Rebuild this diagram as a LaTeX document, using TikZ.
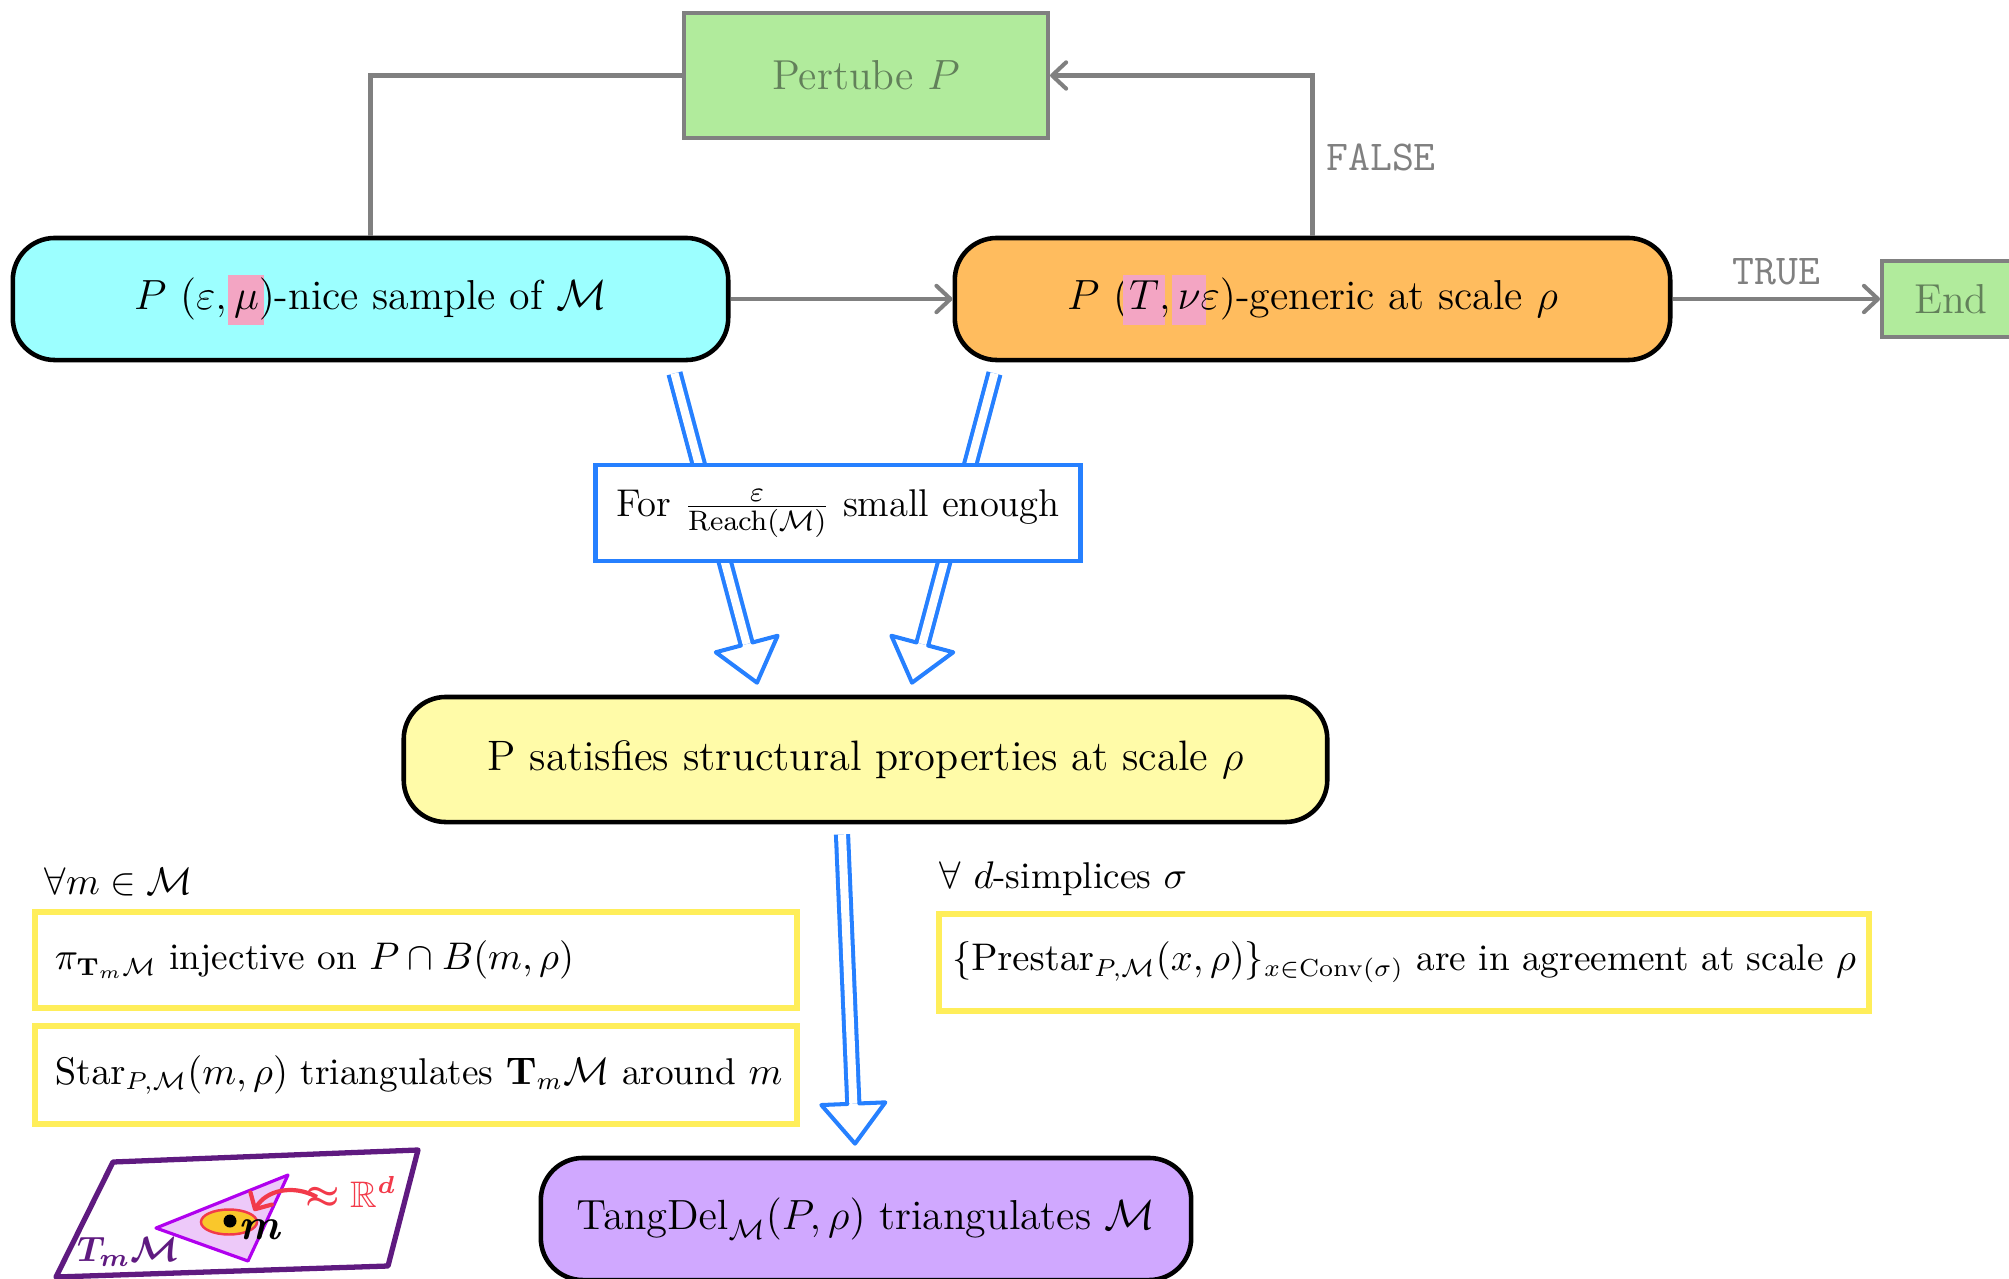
\documentclass[tikz,border=0pt]{standalone}
\usepackage{amsmath,amssymb}
\usetikzlibrary{arrows.meta,calc}

\definecolor{cyanfill}{HTML}{9CFFFF}
\definecolor{orangefill}{HTML}{FFBC5E}
\definecolor{greenfill}{HTML}{B1EB9C}
\definecolor{greentext}{HTML}{62805A}
\definecolor{yellowfill}{HTML}{FFFBA8}
\definecolor{purplefill}{HTML}{D0A8FF}
\definecolor{arrowblue}{HTML}{2680FF}
\definecolor{propyellow}{HTML}{FFEE5A}
\definecolor{hlpink}{HTML}{F3A5C3}
\definecolor{linegray}{HTML}{808080}
\definecolor{planepurple}{HTML}{5F1A80}
\definecolor{simplexfill}{HTML}{EDC9F9}
\definecolor{simplexline}{HTML}{B000EE}
\definecolor{ballfill}{HTML}{F9C72B}
\definecolor{penred}{HTML}{F23A4A}

\newcommand\stagesize{\fontsize{11.9pt}{14pt}\selectfont}
\newcommand\propsize{\fontsize{10.6pt}{13pt}\selectfont}
% pink highlighter stroke behind a math symbol
\newcommand\hlmark[1]{{\setbox0\hbox{$#1$}\rlap{\smash{\kern-1.6pt\textcolor{hlpink}{\rule[-4.3pt]{\dimexpr\wd0+3.2pt\relax}{14pt}}}}\box0}}
% hollow double arrow from #1 to #2
\newcommand\hollowarrow[2]{%
  \coordinate (hb) at ($(#2)!0.40cm!(#1)$);
  \draw[dblshaft] (#1) -- (hb);
  \draw[hollowhead] ($(hb)!0.061cm!90:(#2)$) -- ($(hb)!0.32cm!90:(#2)$) -- (#2)
     -- ($(hb)!0.32cm!-90:(#2)$) -- ($(hb)!0.061cm!-90:(#2)$);
}

\begin{document}
\begin{tikzpicture}[x=0.01cm, y=-0.01cm, font=\stagesize,
  stage/.style={draw=black, line width=1.3pt, rounded corners=0.42cm, minimum height=1.22cm, inner sep=0pt},
  flatbox/.style={draw=linegray, line width=1.1pt, fill=greenfill, text=greentext, inner sep=0pt},
  propbox/.style={draw=propyellow, line width=1.7pt, fill=white, inner sep=0pt, font=\propsize},
  plain/.style={inner sep=0pt},
  gline/.style={draw=linegray, line width=1.15pt},
  gtip/.style={-{Straight Barb[length=4pt,width=7.5pt,round]}},
  flag/.style={font=\ttfamily\fontsize{12.1pt}{14pt}\selectfont, text=linegray},
  dblshaft/.style={draw=arrowblue, line width=1.15pt, double=white, double distance=2.3pt},
  hollowhead/.style={draw=arrowblue, line width=1.15pt, line join=round, line cap=round},
]
\useasboundingbox (0,0) rectangle (2009,1279);
\clip (0,0) rectangle (2009,1279);

% main stages
\node[flatbox, minimum width=3.64cm, minimum height=1.25cm] (pert) at (866,75.5) {Pertube $P$};
\node[stage, fill=cyanfill, minimum width=7.15cm] (nice) at (370.5,299)
  {$P$ $(\varepsilon,\hlmark{\mu})$-nice sample of $\mathcal{M}$};
\node[stage, fill=orangefill, minimum width=7.15cm] (gen) at (1312.5,299)
  {$P$ $(\hlmark{T},\hlmark{\nu}\varepsilon)$-generic at scale $\rho$};
\node[flatbox, minimum width=1.38cm, minimum height=0.76cm] (endn) at (1951,299) {End};
\node[stage, fill=yellowfill, minimum width=9.23cm, minimum height=1.25cm, font=\fontsize{12.1pt}{14pt}\selectfont] (struct) at (865.5,759.5)
  {P satisfies structural properties at scale $\rho$};
\node[stage, fill=purplefill, minimum width=6.50cm] (tangdel) at (866,1219)
  {$\mathrm{TangDel}_{\mathcal{M}}(P,\rho)$ triangulates $\mathcal{M}$};

% control flow
\draw[gline] (nice.north) |- (pert.west);
\draw[gline, gtip] (gen.north) |- node[pos=0.245, right, flag] {FALSE} (pert.east);
\draw[gline, gtip] (nice.east) -- (gen.west);
\draw[gline, gtip] (gen.east) -- node[above, flag] {TRUE} (endn.west);

% implications
\coordinate (a1s) at ($(nice.south east)+(-56,11)$);
\coordinate (a1t) at ($(struct.north)+(-108.5,-12)$);
\coordinate (a2s) at ($(gen.south west)+(42,11)$);
\coordinate (a2t) at ($(struct.north)+(46.5,-12)$);
\coordinate (a3s) at ($(struct.south)+(-23.5,10)$);
\coordinate (a3t) at ($(tangdel.north)+(-11,-12)$);
\hollowarrow{a1s}{a1t}
\hollowarrow{a2s}{a2t}
\hollowarrow{a3s}{a3t}

\node[draw=arrowblue, line width=1.4pt, fill=white, minimum width=4.84cm, minimum height=0.96cm, inner sep=0pt,
      font=\fontsize{11pt}{13pt}\selectfont] (cond) at (838,513)
  {For $\frac{\varepsilon}{\mathrm{Reach}(\mathcal{M})}$ small enough};

% structural properties
\node[plain, anchor=west, font=\propsize] (allm) at (44,882) {$\forall m\in\mathcal{M}$};
\node[plain, anchor=west, font=\propsize] (alld) at (939,879) {$\forall$ $d$-simplices $\sigma$};
\node[propbox, minimum width=7.62cm, minimum height=0.96cm, text width=7.22cm, align=left] (inj) at (416,960)
  {\mbox{$\pi_{\mathbf{T}_m\mathcal{M}}$ injective on $P\cap B(m,\rho)$}};
\node[propbox, minimum width=7.62cm, minimum height=0.98cm, text width=7.22cm, align=left] (star) at (416,1075)
  {\mbox{$\mathrm{Star}_{P,\mathcal{M}}(m,\rho)$ triangulates $\mathbf{T}_m\mathcal{M}$ around $m$}};
\node[propbox, minimum width=9.30cm, minimum height=0.97cm] (agree) at (1404,962.5)
  {$\{\mathrm{Prestar}_{P,\mathcal{M}}(x,\rho)\}_{x\in\mathrm{Conv}(\sigma)}$ are in agreement at scale $\rho$};

% tangent plane sketch
\draw[planepurple, line width=1.5pt, line join=round] (113,1162) -- (418,1150) -- (388,1266) -- (56,1277) -- cycle;
\draw[simplexline, fill=simplexfill, line width=0.9pt, line join=round] (156,1228) -- (288,1175) -- (248,1261) -- cycle;
\draw[penred, fill=ballfill, line width=0.7pt] (229,1222) ellipse [x radius=28, y radius=12.5];
\fill (230,1221) circle [radius=6.5];
\node[plain, font=\bfseries\itshape\fontsize{12.5pt}{12pt}\selectfont] (mlab) at (259,1230) {m};
\draw[penred, line width=1.2pt, -{Straight Barb[length=3.5pt,width=7pt,round]}] (317,1197) .. controls (293,1184) and (266,1190) .. (254,1211);
\node[plain, text=penred, font=\fontsize{10.5pt}{10pt}\selectfont] (rd) at (351,1192) {$\boldsymbol{\approx}\mathbb{R}^{\boldsymbol{d}}$};
\node[plain, text=planepurple, font=\fontsize{10pt}{10pt}\selectfont] (tm) at (128,1252) {$\boldsymbol{T_m\mathcal{M}}$};
\end{tikzpicture}
\end{document}
